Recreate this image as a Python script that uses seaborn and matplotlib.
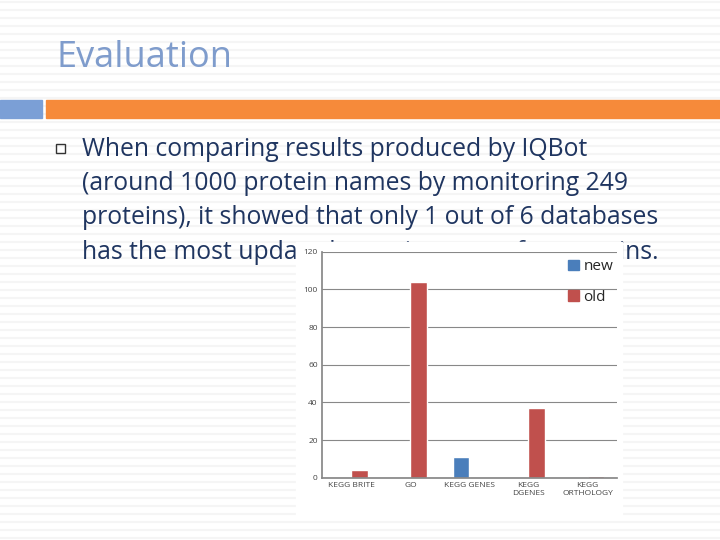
import matplotlib.pyplot as plt
import matplotlib.patches as mpatches
import seaborn as sns
import pandas as pd

databases = ["KEGG BRITE", "GO", "KEGG GENES", "KEGG\nDGENES", "KEGG\nORTHOLOGY"]
new_vals = [0, 0, 11, 0, 0]
old_vals = [4, 104, 0, 37, 1]
y_ticks = [0, 20, 40, 60, 80, 100, 120]

df = pd.DataFrame({
    "db": databases * 2,
    "count": new_vals + old_vals,
    "series": ["new"] * 5 + ["old"] * 5,
})

sns.set_theme(style="white")
plt.rcParams['font.family'] = ['Open Sans', 'DejaVu Sans']

fig = plt.figure(figsize=(7.2, 5.4), dpi=100)

# slide background with faint stripes
bg = fig.add_axes([0, 0, 1, 1])
bg.set_xlim(0, 720)
bg.set_ylim(540, 0)
bg.axis("off")
for y in range(2, 540, 8):
    bg.axhline(y, color="#f5f5f5", lw=1.5, zorder=0)
bg.add_patch(mpatches.Rectangle((46, 100), 680, 18, color="#f68a3a", zorder=1))
bg.add_patch(mpatches.Rectangle((0, 100), 42, 18, color="#7b9fd6", zorder=1))
bg.text(56, 58, "Evaluation", fontsize=26, color="#7f9ccc", va="center", ha="left")
bg.add_patch(mpatches.Rectangle((56, 144), 9, 9, fill=False, ec="#333333", lw=1, zorder=2))
lines = ["When comparing results produced by IQBot",
         "(around 1000 protein names by monitoring 249",
         "proteins), it showed that only 1 out of 6 databases",
         "has the most updated protein names for proteins."]
for i, t in enumerate(lines):
    bg.text(82, 149 + i * 34.5, t, fontsize=17.8, color="#1f3560", va="center", ha="left")
# white chart area
bg.add_patch(mpatches.Rectangle((296, 242), 326, 274, color="white", zorder=3))

ax = fig.add_axes([0.447, 0.115, 0.41, 0.419])
ax.set_zorder(5)
sns.barplot(data=df, x="db", y="count", hue="series",
            palette={"new": "#4a7ebb", "old": "#c0504d"}, saturation=1,
            width=0.55, ax=ax, legend=False)
ax.set_ylim(0, 120)
ax.set_yticks(y_ticks)
ax.yaxis.grid(True, color="#888888", lw=0.8)
ax.set_axisbelow(True)
ax.tick_params(axis="both", labelsize=6, colors="#444444", length=0, pad=3)
ax.set_xlabel("")
ax.set_ylabel("")
for s in ["top", "right"]:
    ax.spines[s].set_visible(False)
ax.spines["left"].set_color("#888888")
ax.spines["bottom"].set_color("#888888")

handles = [mpatches.Patch(color="#4a7ebb", label="new"),
           mpatches.Patch(color="#c0504d", label="old")]
leg = fig.legend(handles=handles, loc="upper left", bbox_to_anchor=(0.77, 0.545),
                 frameon=False, fontsize=11, handlelength=0.7, handleheight=0.7,
                 handletextpad=0.3, labelspacing=1.0)
leg.set_zorder(6)

fig.savefig("out.png", dpi=100)
